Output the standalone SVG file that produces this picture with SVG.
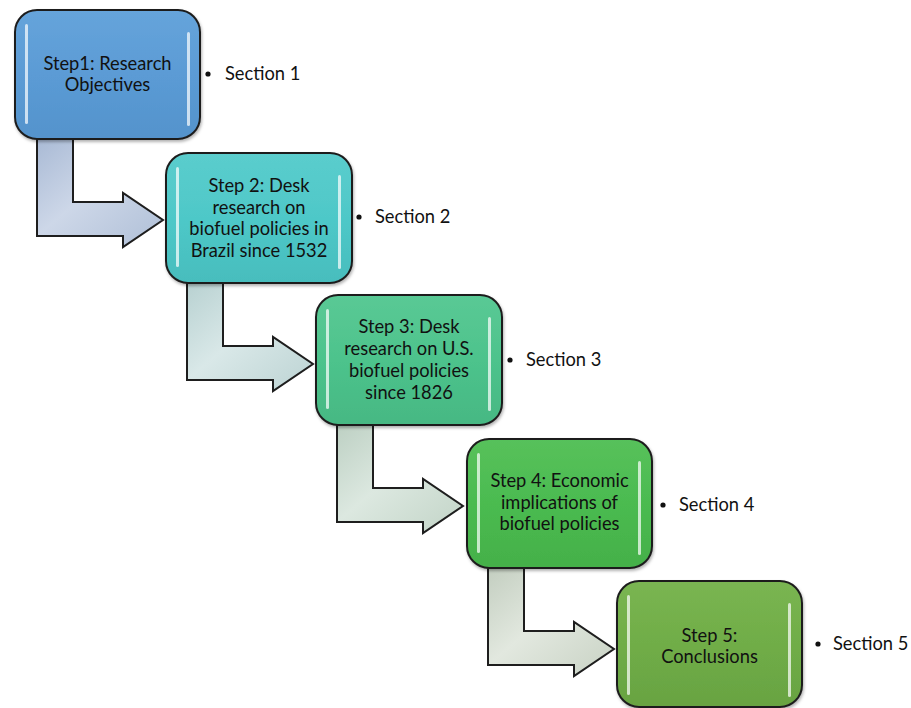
<svg xmlns="http://www.w3.org/2000/svg" width="911" height="708" viewBox="0 0 911 708">
<defs>
  <style>
    .box { stroke: #1e1e1e; stroke-width: 2; }
    .hl { fill: #ffffff; opacity: 0.7; }
    .arrow { stroke: #1e1e1e; stroke-width: 2; stroke-linejoin: miter; }
    .t { font-family: Lato, "Open Sans", "Liberation Sans", sans-serif; font-size: 18.3px; fill: #111111; text-anchor: middle; }
    .s { font-family: Lato, "Open Sans", "Liberation Sans", sans-serif; font-size: 18.3px; fill: #111111; }
  </style>
  <filter id="sh" x="-10%" y="-10%" width="130%" height="130%">
    <feDropShadow dx="1" dy="2" stdDeviation="1.5" flood-color="#000" flood-opacity="0.3"/>
  </filter>
  <linearGradient id="g1" x1="0" y1="0" x2="0" y2="1">
    <stop offset="0" stop-color="#66a4db"/><stop offset="0.5" stop-color="#5b9bd5"/><stop offset="1" stop-color="#5493cc"/>
  </linearGradient>
  <linearGradient id="g2" x1="0" y1="0" x2="0" y2="1">
    <stop offset="0" stop-color="#5bcdcd"/><stop offset="0.5" stop-color="#4ec8c8"/><stop offset="1" stop-color="#47bdbd"/>
  </linearGradient>
  <linearGradient id="g3" x1="0" y1="0" x2="0" y2="1">
    <stop offset="0" stop-color="#5ac995"/><stop offset="0.5" stop-color="#4dc38c"/><stop offset="1" stop-color="#46b883"/>
  </linearGradient>
  <linearGradient id="g4" x1="0" y1="0" x2="0" y2="1">
    <stop offset="0" stop-color="#57c15b"/><stop offset="0.5" stop-color="#4bbb50"/><stop offset="1" stop-color="#44b049"/>
  </linearGradient>
  <linearGradient id="g5" x1="0" y1="0" x2="0" y2="1">
    <stop offset="0" stop-color="#7ab552"/><stop offset="0.5" stop-color="#70ad47"/><stop offset="1" stop-color="#68a342"/>
  </linearGradient>
  <linearGradient id="a1" x1="0" y1="0" x2="1" y2="1">
    <stop offset="0" stop-color="#a9bad5"/><stop offset="0.45" stop-color="#cdd7e8"/><stop offset="1" stop-color="#afbfd7"/>
  </linearGradient>
  <linearGradient id="a2" x1="0" y1="0" x2="1" y2="1">
    <stop offset="0" stop-color="#b8d1d1"/><stop offset="0.45" stop-color="#d9e8e8"/><stop offset="1" stop-color="#bcd3d3"/>
  </linearGradient>
  <linearGradient id="a3" x1="0" y1="0" x2="1" y2="1">
    <stop offset="0" stop-color="#bdd0c3"/><stop offset="0.45" stop-color="#dce8e0"/><stop offset="1" stop-color="#c2d4c7"/>
  </linearGradient>
  <linearGradient id="a4" x1="0" y1="0" x2="1" y2="1">
    <stop offset="0" stop-color="#c3cec0"/><stop offset="0.45" stop-color="#e2e8df"/><stop offset="1" stop-color="#c8d2c4"/>
  </linearGradient>
  <path id="arr" d="M0,0 L36,0 L36,63 L86,63 L86,54 L126,81 L86,108 L86,97 L0,97 Z"/>
</defs>
<rect width="911" height="708" fill="#ffffff"/>

<g id="connectors">
  <use href="#arr" class="arrow" fill="url(#a1)" transform="translate(37,139)"/>
  <use href="#arr" class="arrow" fill="url(#a2)" transform="translate(187,283)"/>
  <use href="#arr" class="arrow" fill="url(#a3)" transform="translate(337,425)"/>
  <use href="#arr" class="arrow" fill="url(#a4)" transform="translate(488,568)"/>
</g>

<g id="step1">
  <rect class="box" x="15" y="10" width="185" height="129" rx="22" fill="url(#g1)" filter="url(#sh)"/>
  <rect class="hl" x="25" y="24" width="3" height="100" rx="1.5"/>
  <rect class="hl" x="187" y="32" width="3" height="94" rx="1.5"/>
  <text class="t" x="107.5" y="70">Step1: Research</text>
  <text class="t" x="107.5" y="91">Objectives</text>
</g>
<g id="section1">
  <circle cx="208" cy="74" r="2.6" fill="#111111"/>
  <text class="s" x="225" y="80">Section 1</text>
</g>

<g id="step2">
  <rect class="box" x="166" y="153" width="186" height="130" rx="22" fill="url(#g2)" filter="url(#sh)"/>
  <rect class="hl" x="176" y="167" width="3" height="100" rx="1.5"/>
  <rect class="hl" x="338" y="175" width="3" height="94" rx="1.5"/>
  <text class="t" x="259" y="192">Step 2: Desk</text>
  <text class="t" x="259" y="213.5">research on</text>
  <text class="t" x="259" y="235">biofuel policies in</text>
  <text class="t" x="259" y="257">Brazil since 1532</text>
</g>
<g id="section2">
  <circle cx="359" cy="217" r="2.6" fill="#111111"/>
  <text class="s" x="375" y="223">Section 2</text>
</g>

<g id="step3">
  <rect class="box" x="316" y="295" width="186" height="130" rx="22" fill="url(#g3)" filter="url(#sh)"/>
  <rect class="hl" x="326" y="309" width="3" height="100" rx="1.5"/>
  <rect class="hl" x="488" y="317" width="3" height="94" rx="1.5"/>
  <text class="t" x="409" y="333">Step 3: Desk</text>
  <text class="t" x="409" y="355">research on U.S.</text>
  <text class="t" x="409" y="377">biofuel policies</text>
  <text class="t" x="409" y="399">since 1826</text>
</g>
<g id="section3">
  <circle cx="510" cy="360" r="2.6" fill="#111111"/>
  <text class="s" x="526" y="366">Section 3</text>
</g>

<g id="step4">
  <rect class="box" x="467" y="439" width="185" height="129" rx="22" fill="url(#g4)" filter="url(#sh)"/>
  <rect class="hl" x="477" y="453" width="3" height="100" rx="1.5"/>
  <rect class="hl" x="638" y="461" width="3" height="94" rx="1.5"/>
  <text class="t" x="559.5" y="487">Step 4: Economic</text>
  <text class="t" x="559.5" y="508.5">implications of</text>
  <text class="t" x="559.5" y="530">biofuel policies</text>
</g>
<g id="section4">
  <circle cx="663" cy="505" r="2.6" fill="#111111"/>
  <text class="s" x="679" y="511">Section 4</text>
</g>

<g id="step5">
  <rect class="box" x="617" y="581" width="185" height="126" rx="22" fill="url(#g5)" filter="url(#sh)"/>
  <rect class="hl" x="627" y="595" width="3" height="100" rx="1.5"/>
  <rect class="hl" x="788" y="603" width="3" height="94" rx="1.5"/>
  <text class="t" x="709.5" y="642">Step 5:</text>
  <text class="t" x="709.5" y="663">Conclusions</text>
</g>
<g id="section5">
  <circle cx="818" cy="644" r="2.6" fill="#111111"/>
  <text class="s" x="833" y="650">Section 5</text>
</g>
</svg>
